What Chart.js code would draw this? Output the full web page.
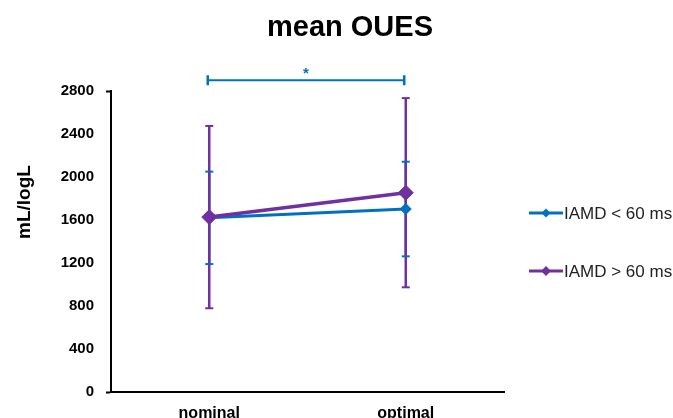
<!DOCTYPE html>
<html>
<head>
<meta charset="utf-8">
<script src="https://cdn.jsdelivr.net/npm/chart.js@4/dist/chart.umd.min.js"></script>
<style>
  html, body { margin: 0; padding: 0; background: #fff; }
  #wrap { width: 673px; height: 418px; position: relative; }
</style>
</head>
<body>
<div id="wrap"><canvas id="c"></canvas></div>
<script>
// Categories and series
const categories = ['nominal', 'optimal'];
const seriesNames = ['IAMD < 60 ms', 'IAMD > 60 ms'];
const shortMeans = [1620, 1702];
const shortSD = [430, 440];
const longMeans = [1627, 1854];
const longSD = [848, 880];

// Y axis range and step
const yMin = 0;
const yMax = 2800;
const yStep = 400;

// Significance bracket between the two conditions
const sigFrom = 'nominal';
const sigTo = 'optimal';
const sigLevel = 2900;
const sigLabel = '*';

const chartTitle = 'mean OUES';
const yTitle = 'mL/logL';

const BLUE = '#0070C0';
const PURPLE = '#7030A0';
const FONT = '"Liberation Sans", Arial, sans-serif';

// Mean ± SD whiskers, drawn under the lines
const errorBars = {
  id: 'errorBars',
  beforeDatasetsDraw(chart) {
    const { ctx, scales: { x, y } } = chart;
    const sets = [
      { means: shortMeans, sd: shortSD, color: BLUE },
      { means: longMeans, sd: longSD, color: PURPLE }
    ];
    const cap = 4;
    ctx.save();
    ctx.lineCap = 'butt';
    // vertical stems: blue first, purple over it
    sets.forEach(s => {
      ctx.strokeStyle = s.color;
      ctx.lineWidth = 2.5;
      s.means.forEach((m, i) => {
        const px = x.getPixelForValue(i);
        ctx.beginPath();
        ctx.moveTo(px, y.getPixelForValue(m - s.sd[i]));
        ctx.lineTo(px, y.getPixelForValue(m + s.sd[i]));
        ctx.stroke();
      });
    });
    // caps: purple first, blue on top
    [sets[1], sets[0]].forEach(s => {
      ctx.strokeStyle = s.color;
      ctx.lineWidth = 2;
      s.means.forEach((m, i) => {
        const px = x.getPixelForValue(i);
        [m - s.sd[i], m + s.sd[i]].forEach(v => {
          const py = y.getPixelForValue(v);
          ctx.beginPath();
          ctx.moveTo(px - cap, py);
          ctx.lineTo(px + cap, py);
          ctx.stroke();
        });
      });
    });
    ctx.restore();
  }
};

// Title, axis title, significance bracket and legend
const decorations = {
  id: 'decorations',
  afterDraw(chart) {
    const { ctx, scales: { x, y } } = chart;
    ctx.save();

    // chart title
    ctx.fillStyle = '#000';
    ctx.font = 'bold 29px ' + FONT;
    ctx.textAlign = 'center';
    ctx.textBaseline = 'middle';
    ctx.fillText(chartTitle, 350, 28);

    // y axis title
    ctx.save();
    ctx.translate(25, 202);
    ctx.rotate(-Math.PI / 2);
    ctx.font = 'bold 19px ' + FONT;
    ctx.fillText(yTitle, 0, 0);
    ctx.restore();

    // significance bracket
    const x1 = x.getPixelForValue(categories.indexOf(sigFrom)) - 1.5;
    const x2 = x.getPixelForValue(categories.indexOf(sigTo)) - 1.5;
    const by = y.getPixelForValue(sigLevel);
    ctx.strokeStyle = BLUE;
    ctx.lineWidth = 2;
    ctx.beginPath();
    ctx.moveTo(x1, by); ctx.lineTo(x2, by);
    ctx.stroke();
    ctx.lineWidth = 2.5;
    ctx.beginPath();
    ctx.moveTo(x1, by - 5); ctx.lineTo(x1, by + 5);
    ctx.moveTo(x2, by - 5); ctx.lineTo(x2, by + 5);
    ctx.stroke();
    ctx.fillStyle = BLUE;
    ctx.font = 'bold 15px ' + FONT;
    ctx.fillText(sigLabel, (x1 + x2) / 2, by - 6);

    // legend
    const items = [
      { name: seriesNames[0], color: BLUE, yy: 213, r: 4.5 },
      { name: seriesNames[1], color: PURPLE, yy: 271, r: 5 }
    ];
    items.forEach(it => {
      ctx.strokeStyle = it.color;
      ctx.lineWidth = 3;
      ctx.beginPath();
      ctx.moveTo(529, it.yy); ctx.lineTo(563, it.yy);
      ctx.stroke();
      ctx.fillStyle = it.color;
      ctx.beginPath();
      ctx.moveTo(546, it.yy - it.r);
      ctx.lineTo(546 + it.r, it.yy);
      ctx.lineTo(546, it.yy + it.r);
      ctx.lineTo(546 - it.r, it.yy);
      ctx.closePath();
      ctx.fill();
      ctx.fillStyle = '#222';
      ctx.font = '17px ' + FONT;
      ctx.textAlign = 'left';
      ctx.fillText(it.name, 564, it.yy + 1);
    });

    ctx.restore();
  }
};

new Chart(document.getElementById('c'), {
  type: 'line',
  data: {
    labels: categories,
    datasets: [
      {
        label: seriesNames[0],
        data: shortMeans,
        borderColor: BLUE,
        backgroundColor: BLUE,
        borderWidth: 3,
        pointStyle: 'rectRot',
        pointRadius: 5.5,
        pointBorderWidth: 1,
        order: 2
      },
      {
        label: seriesNames[1],
        data: longMeans,
        borderColor: PURPLE,
        backgroundColor: PURPLE,
        borderWidth: 3.5,
        pointStyle: 'rectRot',
        pointRadius: 7.5,
        pointBorderWidth: 1,
        order: 1
      }
    ]
  },
  options: {
    responsive: true,
    maintainAspectRatio: false,
    animation: false,
    layout: { padding: { top: 91, right: 169, left: 0, bottom: 0 } },
    plugins: {
      legend: { display: false },
      title: { display: false },
      tooltip: { enabled: false }
    },
    scales: {
      x: {
        type: 'category',
        offset: true,
        grid: { display: false },
        border: { display: true, color: '#000', width: 2 },
        ticks: {
          color: '#000',
          padding: 4,
          font: { family: FONT, size: 16, weight: 'bold' }
        },
        afterFit(scale) { scale.height = 26; }
      },
      y: {
        min: yMin,
        max: yMax,
        ticks: {
          stepSize: yStep,
          color: '#000',
          padding: 12,
          font: { family: FONT, size: 15, weight: 'bold' },
          callback: v => String(v)
        },
        grid: {
          drawOnChartArea: false,
          drawTicks: true,
          tickLength: 5,
          tickWidth: 2,
          tickColor: c => (c.tick && (c.tick.value === yMin || c.tick.value === yMax)) ? '#000' : 'rgba(0,0,0,0)'
        },
        border: { display: true, color: '#000', width: 2 },
        afterFit(scale) { scale.width = 111; }
      }
    }
  },
  plugins: [errorBars, decorations]
});
</script>
</body>
</html>
